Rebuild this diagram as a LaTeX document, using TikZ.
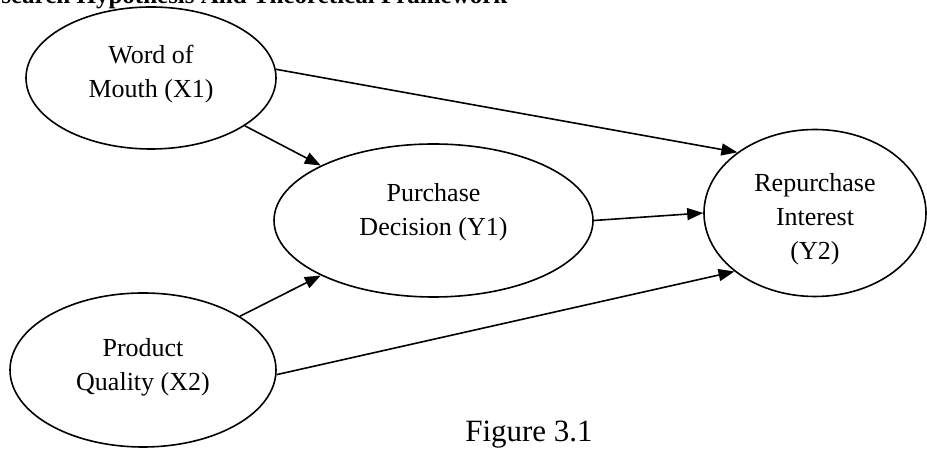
\documentclass[tikz,border=0pt]{standalone}
\usepackage{fontspec}
\setmainfont{Liberation Serif}
\usetikzlibrary{shapes.geometric,arrows.meta}
\newcommand{\lifted}[2]{\raisebox{#1}[\height][\depth]{\begin{tabular}{@{}c@{}}#2\end{tabular}}}
\begin{document}
\begin{tikzpicture}[x=0.5pt,y=0.5pt,
	var/.style={draw,ellipse,line width=0.8pt,inner sep=0pt,font=\fontsize{13}{17}\selectfont},
	arr/.style={line width=0.8pt,-{Triangle[length=8pt,width=6pt]}}]
	\useasboundingbox (0,0) rectangle (927,449);
	\clip (0,0) rectangle (927,449);
	\node[anchor=base west,inner sep=0pt,font=\fontsize{12.5}{15}\selectfont\bfseries] (title) at (1,445) {search Hypothesis And Theoretical Framework};
	\node[var,minimum width=125pt,minimum height=71pt] (wom) at (151,371) {\lifted{2pt}{Word of\\Mouth (X1)}};
	\node[var,minimum width=159.5pt,minimum height=76.5pt] (pd) at (433.5,228.5) {\lifted{4.5pt}{Purchase\\Decision (Y1)}};
	\node[var,minimum width=133pt,minimum height=77pt] (pq) at (143,79) {\lifted{1.5pt}{Product\\Quality (X2)}};
	\node[var,minimum width=111pt,minimum height=83.5pt] (rep) at (815,236) {\lifted{-3pt}{Repurchase\\Interest\\(Y2)}};
	\foreach \a/\b in {wom.4/rep.142,wom.-27/pd.154,pq.29/pd.206,pq.-2/rep.216,pd.east/rep.west} {
			\draw[arr] (\a) -- (\b);
		}
	\node[anchor=base,font=\fontsize{15.5}{18}\selectfont] (fig) at (529,7) {Figure 3.1};
\end{tikzpicture}
\end{document}
